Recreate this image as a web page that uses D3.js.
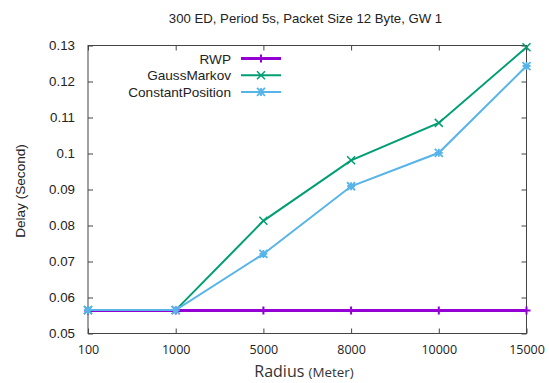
<!DOCTYPE html>
<html>
<head>
<meta charset="utf-8">
<script src="https://cdn.jsdelivr.net/npm/d3@7"></script>
<style>
  body { margin: 0; background: #fff; }
  text { font-family: "Liberation Sans", Arial, sans-serif; fill: #222; }
</style>
</head>
<body>
<div id="chart"></div>
<script>
var radius = ["100", "1000", "5000", "8000", "10000", "15000"];
var rwp = [0.0564, 0.0564, 0.0564, 0.0564, 0.0564, 0.0564];
var gaussMarkov = [0.0565, 0.0565, 0.0813, 0.0981, 0.1085, 0.1295];
var constantPosition = [0.0565, 0.0565, 0.0721, 0.0909, 0.1002, 0.1243];
var yTicks = [0.05, 0.06, 0.07, 0.08, 0.09, 0.1, 0.11, 0.12, 0.13];

var width = 549, height = 383;
var margin = {top: 45.5, left: 88, right: 22.5, bottom: 49.5};

var svg = d3.select("#chart").append("svg")
  .attr("width", width)
  .attr("height", height);

var xScale = d3.scalePoint()
  .domain(radius)
  .range([margin.left, width - margin.right]);

var yScale = d3.scaleLinear()
  .domain([0.05, 0.13])
  .range([height - margin.bottom, margin.top]);

var series = [
  {name: "RWP", values: rwp, color: "#9400d3", width: 3, marker: "plus"},
  {name: "GaussMarkov", values: gaussMarkov, color: "#009e73", width: 2, marker: "cross"},
  {name: "ConstantPosition", values: constantPosition, color: "#56b4e9", width: 2, marker: "star"}
];

// axes, ticks pointing inward, mirrored on top and right
var axisColor = "#444";
svg.append("g")
  .attr("transform", `translate(0,${height - margin.bottom})`)
  .call(d3.axisBottom(xScale).tickSizeInner(-5).tickSizeOuter(0).tickPadding(12))
  .call(function(g) {
    g.select(".domain").remove();
    g.selectAll("line").attr("stroke", axisColor);
    g.selectAll("text").attr("font-size", 12.5).style("font-family", "'Open Sans', sans-serif").attr("fill", "#222");
  });

svg.append("g")
  .attr("transform", `translate(0,${margin.top})`)
  .call(d3.axisTop(xScale).tickSizeInner(-5).tickSizeOuter(0).tickFormat(""))
  .call(function(g) {
    g.select(".domain").remove();
    g.selectAll("line").attr("stroke", axisColor);
  });

svg.append("g")
  .attr("transform", `translate(${margin.left},0)`)
  .call(d3.axisLeft(yScale).tickValues(yTicks).tickSizeInner(-5).tickSizeOuter(0).tickPadding(13)
    .tickFormat(function(d) { return d3.format("")(+d.toFixed(2)); }))
  .call(function(g) {
    g.select(".domain").remove();
    g.selectAll("line").attr("stroke", axisColor);
    g.selectAll("text").attr("font-size", 13.3).style("font-family", "Liberation Sans, Arial, sans-serif").attr("fill", "#222");
  });

svg.append("g")
  .attr("transform", `translate(${width - margin.right},0)`)
  .call(d3.axisRight(yScale).tickValues(yTicks).tickSizeInner(-5).tickSizeOuter(0).tickFormat(""))
  .call(function(g) {
    g.select(".domain").remove();
    g.selectAll("line").attr("stroke", axisColor);
  });

svg.append("rect")
  .attr("x", margin.left)
  .attr("y", margin.top)
  .attr("width", width - margin.left - margin.right)
  .attr("height", height - margin.top - margin.bottom)
  .attr("fill", "none")
  .attr("stroke", axisColor)
  .attr("stroke-width", 1);

function drawMarker(g, type, x, y, color) {
  var s = 4;
  if (type == "plus") {
    g.append("path").attr("d", `M${x-s},${y}H${x+s}M${x},${y-s}V${y+s}`)
      .attr("stroke", color).attr("stroke-width", 2);
  } else if (type == "cross") {
    g.append("path").attr("d", `M${x-s},${y-s}L${x+s},${y+s}M${x-s},${y+s}L${x+s},${y-s}`)
      .attr("stroke", color).attr("stroke-width", 1.5);
  } else {
    g.append("path").attr("d", `M${x-s},${y}H${x+s}M${x},${y-s}V${y+s}M${x-s},${y-s}L${x+s},${y+s}M${x-s},${y+s}L${x+s},${y-s}`)
      .attr("stroke", color).attr("stroke-width", 1.8);
  }
}

var line = d3.line()
  .x(function(d, i) { return xScale(radius[i]); })
  .y(function(d) { return yScale(d); });

series.forEach(function(s) {
  svg.append("path")
    .datum(s.values)
    .attr("d", line)
    .attr("stroke", s.color)
    .attr("stroke-width", s.width)
    .attr("fill", "none");
  var g = svg.append("g");
  s.values.forEach(function(v, i) {
    drawMarker(g, s.marker, xScale(radius[i]), yScale(v), s.color);
  });
});

// legend
var legend = svg.append("g");
series.forEach(function(s, i) {
  var y = 58.5 + i * 16.7;
  legend.append("text")
    .attr("x", 231)
    .attr("y", y + 5)
    .attr("text-anchor", "end")
    .attr("font-size", 13.6)
    .text(s.name);
  legend.append("line")
    .attr("x1", 241).attr("x2", 281)
    .attr("y1", y).attr("y2", y)
    .attr("stroke", s.color)
    .attr("stroke-width", s.width);
  drawMarker(legend, s.marker, 261, y, s.color);
});

svg.append("text")
  .attr("x", 305.5)
  .attr("y", 23)
  .attr("text-anchor", "middle")
  .attr("font-size", 13.2)
  .text("300 ED, Period 5s, Packet Size 12 Byte, GW 1");

var xLabel = svg.append("text")
  .attr("x", 304)
  .attr("y", 377)
  .attr("text-anchor", "middle")
  .style("font-family", "'Open Sans', sans-serif")
  .style("fill", "#333");
xLabel.append("tspan").attr("font-size", 16).text("Radius ");
xLabel.append("tspan").attr("font-size", 13.4).text("(Meter)");

svg.append("text")
  .attr("transform", `translate(25,191) rotate(-90)`)
  .attr("text-anchor", "middle")
  .attr("font-size", 13.6)
  .text("Delay (Second)");
</script>
</body>
</html>
